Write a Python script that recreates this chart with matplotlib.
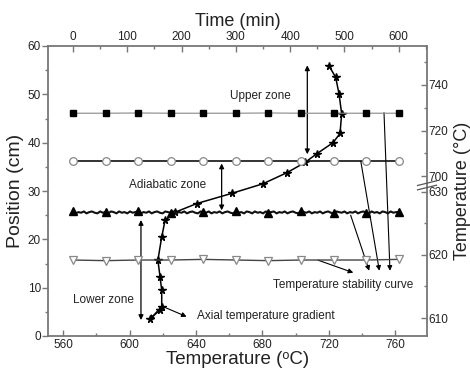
import numpy as np
import matplotlib
matplotlib.use("Agg")
import matplotlib.pyplot as plt

plt.rcParams['font.family'] = ['Liberation Sans', 'DejaVu Sans']

# ---- axial temperature gradient (bottom temperature axis vs position) ----
grad_temp = [720.1, 724.1, 726.1, 727.7, 726.7, 722.5, 712.7, 705.6, 694.8, 680.3,
             661.4, 640.4, 627.3, 621.3, 619.3, 617.0, 618.3, 619.3, 619.3, 618.3, 612.2]
grad_pos = [55.9, 53.5, 50.1, 46.0, 41.9, 40.0, 37.7, 35.9, 33.8, 31.5,
            29.5, 27.4, 25.6, 23.9, 20.5, 15.7, 12.2, 9.5, 6.0, 5.4, 3.5]

# ---- temperature stability curves (top time axis vs right temperature axis) ----
time_mark = [0, 60, 120, 180, 240, 300, 360, 420, 480, 540, 600]
upper_temp = [727.6, 727.6, 727.7, 727.6, 727.6, 727.6, 727.7, 727.6, 727.6, 727.6, 727.6]
adiab_temp = [706.6, 706.6, 706.6, 706.6, 706.6, 706.6, 706.6, 706.6, 706.6, 706.6, 706.6]
lower_temp = [619.2, 619.1, 619.2, 619.2, 619.3, 619.2, 619.1, 619.2, 619.2, 619.2, 619.3]

time_dense = list(range(0, 605, 5))
interface_temp = [626.9, 626.6, 626.8, 626.7, 626.9, 626.6, 626.8, 626.9, 626.7, 626.6,
                  626.9, 626.7, 626.8, 626.6, 626.9, 626.8, 626.6, 626.9, 626.7, 626.8,
                  626.6, 626.9, 626.7, 626.8, 626.9, 626.6, 626.8, 626.7, 626.9, 626.6,
                  626.8, 626.9, 626.7, 626.6, 626.9, 626.8, 626.7, 626.9, 626.6, 626.8,
                  626.7, 626.9, 626.6, 626.8, 626.9, 626.7, 626.6, 626.9, 626.8, 626.7,
                  626.9, 626.6, 626.8, 626.7, 626.9, 626.6, 626.8, 626.9, 626.7, 626.6,
                  626.9, 626.7, 626.8, 626.6, 626.9, 626.8, 626.6, 626.9, 626.7, 626.8,
                  626.6, 626.9, 626.7, 626.8, 626.9, 626.6, 626.8, 626.7, 626.9, 626.6,
                  626.8, 626.9, 626.7, 626.6, 626.9, 626.8, 626.7, 626.9, 626.6, 626.8,
                  626.7, 626.9, 626.6, 626.8, 626.9, 626.7, 626.6, 626.9, 626.8, 626.7,
                  626.9, 626.6, 626.8, 626.7, 626.9, 626.6, 626.8, 626.9, 626.7, 626.6,
                  626.9, 626.7, 626.8, 626.6, 626.9, 626.8, 626.6, 626.9, 626.7, 626.8, 626.8]

# broken right temperature axis (piecewise linear mapping to position scale)
brk_T = [500.0, 610.0, 630.0, 700.0, 750.0, 900.0]
brk_P = [3.72 - 110 * 1.3045, 3.72, 29.81, 33.06, 56.67, 56.67 + 150 * 0.4722]


def fwd(t):
    return np.interp(t, brk_T, brk_P)


def inv(p):
    return np.interp(p, brk_P, brk_T)


fig = plt.figure(figsize=(4.7, 3.71), dpi=100)
rect = [48 / 470, 35 / 371, (427 - 48) / 470, (336 - 46) / 371]
ax = fig.add_axes(rect)
axt = fig.add_axes(rect, facecolor='none')

tick_col = '#222222'
spine_col = '#777777'

# main axes: temperature vs position
ax.set_xlim(550.8, 779.1)
ax.set_ylim(0, 60)
ax.set_xticks(range(560, 761, 40))
ax.set_xticks(range(560, 780, 20), minor=True)
ax.set_yticks(range(0, 61, 10))
ax.set_yticks(range(5, 60, 10), minor=True)
for s in ax.spines.values():
    s.set_color(spine_col)
    s.set_linewidth(1.3)
ax.tick_params(axis='x', direction='in', length=4, width=1, colors=spine_col,
               labelcolor=tick_col, labelsize=8.5, pad=2)
ax.tick_params(axis='x', which='minor', direction='in', length=2.5, width=1, colors=spine_col)
ax.tick_params(axis='y', direction='out', length=4, width=1, colors=spine_col,
               labelcolor=tick_col, labelsize=8.5, pad=1)
ax.tick_params(axis='y', which='minor', direction='out', length=2.5, width=1, colors=spine_col)
ax.set_xlabel('Temperature (\u1d52C)', fontsize=13.5, color=tick_col, labelpad=0)
ax.set_ylabel('Position (cm)', fontsize=14, color=tick_col, labelpad=3)

# overlay axes: time vs right temperature
axt.set_yscale('function', functions=(fwd, inv))
axt.set_xlim(-46, 652)
axt.set_ylim(inv(0), inv(60))
axt.xaxis.tick_top()
axt.xaxis.set_label_position('top')
axt.yaxis.tick_right()
axt.yaxis.set_label_position('right')
for s in axt.spines.values():
    s.set_visible(False)
axt.set_xticks(range(0, 601, 100))
axt.set_xticks(range(50, 651, 100), minor=True)
axt.set_yticks([610, 620, 630, 700, 720, 740])
axt.set_yticklabels(['610', '620', '630', '700', '720', '740'])
axt.set_yticks([615, 625, 710, 730, 750], minor=True)
axt.yaxis.set_minor_formatter(matplotlib.ticker.NullFormatter())
axt.tick_params(axis='x', direction='in', length=4, width=1, colors=spine_col,
                labelcolor=tick_col, labelsize=8.5, pad=2)
axt.tick_params(axis='x', which='minor', direction='in', length=2.5, width=1, colors=spine_col)
axt.tick_params(axis='y', direction='in', length=4, width=1, colors=spine_col,
                labelcolor=tick_col, labelsize=8.5, pad=1)
axt.tick_params(axis='y', which='minor', direction='in', length=2.5, width=1, colors=spine_col)
axt.set_xlabel('Time (min)', fontsize=13, color=tick_col, labelpad=4)
axt.set_ylabel('Temperature (\u00b0C)', fontsize=13, color=tick_col, labelpad=4)

# axis break marks on the right axis
for yb in (0.527, 0.512):
    axt.plot([0.975, 1.025], [yb - 0.008, yb + 0.008], transform=axt.transAxes,
             color='#555555', lw=0.9, clip_on=False)

# stability curves
axt.plot(time_mark, upper_temp, '-', color='#888888', lw=0.8, marker='s', ms=4.5,
         mfc='black', mec='black')
axt.plot(time_mark, adiab_temp, '-', color='#111111', lw=1.2, marker='o', ms=5.5,
         mfc='white', mec='#888888', mew=0.9)
axt.plot(time_dense, interface_temp, '-', color='#111111', lw=1.5, marker='^', ms=6,
         mfc='black', mec='black', markevery=12)
axt.plot(time_mark, lower_temp, '-', color='#444444', lw=1.0, marker='v', ms=6,
         mfc='white', mec='#888888', mew=0.9)

# axial temperature gradient
ax.plot(grad_temp, grad_pos, '-', color='black', lw=1.1, marker='*', ms=5.5,
        mfc='black', mec='black', zorder=5)

# annotations
dbl = dict(arrowstyle='<|-|>', mutation_scale=7, lw=0.9, color='black',
           shrinkA=0, shrinkB=0)
one = dict(arrowstyle='-|>', mutation_scale=7, lw=0.8, color='black',
           shrinkA=0, shrinkB=0)
txt = dict(fontsize=8.5, color=tick_col, ha='center', va='center')

ax.annotate('', xy=(707.0, 56.0), xytext=(707.0, 37.6), arrowprops=dbl)
ax.text(679, 49.6, 'Upper zone', **txt)
ax.annotate('', xy=(655.4, 35.7), xytext=(655.4, 26.0), arrowprops=dbl)
ax.text(622.9, 31.2, 'Adiabatic zone', **txt)
ax.annotate('', xy=(606.8, 24.0), xytext=(606.8, 3.3), arrowprops=dbl)
ax.text(583.9, 7.4, 'Lower zone', **txt)

ax.annotate('', xy=(611.8, 3.3), xytext=(619.3, 6.2), arrowprops=one)
ax.annotate('', xy=(634.3, 4.0), xytext=(619.3, 6.2), arrowprops=one)
ax.text(640.4, 4.2, 'Axial temperature gradient', fontsize=8.5, color=tick_col,
        ha='left', va='center')

ax.text(728.5, 10.5, 'Temperature stability curve', **txt)
ax.annotate('', xy=(756.8, 13.5), xytext=(753.2, 46.2), arrowprops=one)
ax.annotate('', xy=(750.4, 13.5), xytext=(739.2, 36.2), arrowprops=one)
ax.annotate('', xy=(744.3, 13.5), xytext=(733.1, 25.0), arrowprops=one)
ax.annotate('', xy=(734.7, 13.1), xytext=(713.4, 15.7), arrowprops=one)

fig.savefig('out.png', dpi=100)
